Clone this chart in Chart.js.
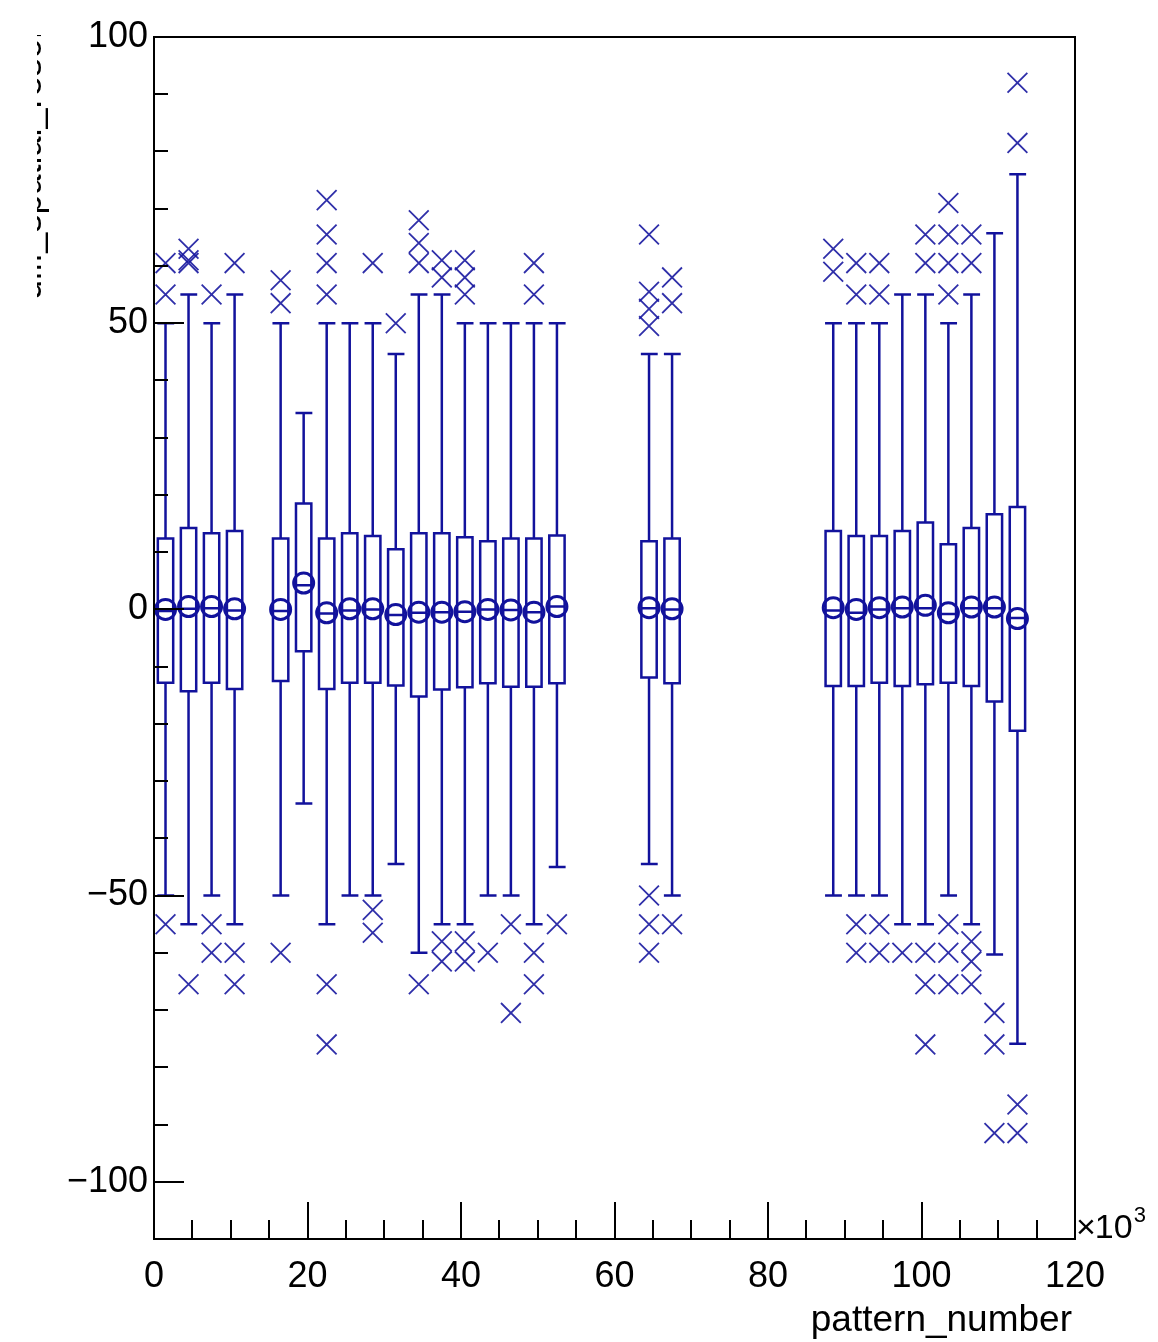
<!DOCTYPE html>
<html>
<head>
<meta charset="utf-8">
<script src="https://cdn.jsdelivr.net/npm/chart.js@4.4.1/dist/chart.umd.min.js"></script>
<style>
  html, body { margin: 0; padding: 0; background: #ffffff; }
  #wrap { width: 1158px; height: 1342px; }
</style>
</head>
<body>
<div id="wrap"><canvas id="candleChart" width="1158" height="1342"></canvas></div>
<script>
// bin centres (in units of 10^3 pattern numbers)
const binCenters = [1.5, 4.5, 7.5, 10.5, 16.5, 19.5, 22.5, 25.5, 28.5, 31.5, 34.5, 37.5, 40.5, 43.5,
    46.5, 49.5, 52.5, 64.5, 67.5, 88.5, 91.5, 94.5, 97.5, 100.5, 103.5, 106.5, 109.5, 112.5];

// candle values per bin
const whiskerTop = [50, 55, 50, 55, 50, 34.3, 50, 50, 50, 44.6, 55, 55, 50, 50,
    50, 50, 50, 44.6, 44.6, 50, 50, 50, 55, 55, 50, 55, 65.7, 76];
const boxTop = [12.4, 14.2, 13.3, 13.7, 12.4, 18.5, 12.4, 13.3, 12.8, 10.5, 13.3, 13.3, 12.6, 11.9,
    12.4, 12.4, 12.9, 11.9, 12.4, 13.7, 12.8, 12.8, 13.7, 15.2, 11.4, 14.2, 16.6, 17.9];
const medians = [-0.3, 0.1, 0.2, -0.2, -0.3, 4.2, -0.7, -0.2, 0, -1, -0.6, -0.5, -0.4, 0,
    -0.1, -0.5, 0.5, 0.2, 0, -0.2, -0.6, 0, 0.2, 0.2, -0.8, 0.2, 0.2, -1.5];
const means = [0, 0.5, 0.5, 0.1, 0, 4.6, -0.6, 0.1, 0.1, -0.9, -0.5, -0.5, -0.4, 0,
    -0.1, -0.5, 0.5, 0.3, 0.1, 0.3, 0, 0.3, 0.4, 0.7, -0.6, 0.4, 0.4, -1.6];
const boxBottom = [-12.8, -14.3, -12.8, -13.9, -12.5, -7.3, -13.9, -12.8, -12.8, -13.3, -15.2, -14, -13.6, -12.9,
    -13.5, -13.5, -12.9, -11.9, -12.9, -13.4, -13.4, -12.8, -13.4, -13.1, -12.8, -13.4, -16.1, -21.2];
const whiskerBottom = [-50, -55, -50, -55, -50, -33.9, -55, -50, -50, -44.5, -60, -55, -55, -50,
    -50, -55, -45, -44.5, -50, -50, -50, -50, -55, -55, -50, -55, -60.3, -75.9];

// outliers above / below the whiskers
const outliersHigh = [[60.5, 55], [63, 61, 60.5], [55], [60.5], [57.5, 53.5], [], [71.5, 65.5, 60.5, 55], [],
    [60.5], [50], [68, 64, 60.5], [61, 58], [61, 58, 55], [], [], [60.5, 55], [],
    [65.5, 55.5, 52.5, 49.5], [58, 53.5], [63, 59], [60.5, 55], [60.5, 55], [], [65.5, 60.5],
    [71, 65.5, 60.5, 55], [65.5, 60.5], [], [92, 81.5]];
const outliersLow = [[-55], [-65.5], [-55, -60], [-60, -65.5], [-60], [], [-65.5, -76], [],
    [-52.5, -56.5], [], [-65.5], [-58, -61.5], [-58, -61.5], [-60], [-55, -70.5], [-60, -65.5], [-55],
    [-50, -55, -60], [-55], [], [-55, -60], [-55, -60], [-60], [-60, -65.5, -76],
    [-55, -60, -65.5], [-58, -61.5, -65.5], [-70.5, -76, -91.5], [-86.5, -91.5]];

// axis ticks
const xTicks = [0, 20, 40, 60, 80, 100, 120];
const yTicks = [-100, -50, 0, 50, 100];

const lineColor = '#12129c';
const fontFamily = "'Liberation Sans', Arial, Helvetica, sans-serif";

const outlierPoints = [];
binCenters.forEach((x, i) => {
    outliersHigh[i].forEach(v => outlierPoints.push({ x: x, y: v }));
    outliersLow[i].forEach(v => outlierPoints.push({ x: x, y: v }));
});
const meanPoints = binCenters.map((x, i) => ({ x: x, y: means[i] }));

// boxes, whiskers and median lines
const candlePlugin = {
    id: 'candles',
    beforeDatasetsDraw(chart) {
        const ctx = chart.ctx;
        const xs = chart.scales.x, ys = chart.scales.y;
        const halfBox = 1.0;
        ctx.save();
        ctx.strokeStyle = lineColor;
        ctx.lineWidth = 2.5;
        binCenters.forEach((x, i) => {
            const cx = xs.getPixelForValue(x);
            const left = xs.getPixelForValue(x - halfBox);
            const right = xs.getPixelForValue(x + halfBox);
            const yTop = ys.getPixelForValue(boxTop[i]);
            const yBot = ys.getPixelForValue(boxBottom[i]);
            const yWt = ys.getPixelForValue(whiskerTop[i]);
            const yWb = ys.getPixelForValue(whiskerBottom[i]);
            const yMed = ys.getPixelForValue(medians[i]);
            ctx.beginPath();
            ctx.rect(left, yTop, right - left, yBot - yTop);
            ctx.moveTo(cx, yTop); ctx.lineTo(cx, yWt);
            ctx.moveTo(cx, yBot); ctx.lineTo(cx, yWb);
            ctx.moveTo(left - 0.5, yWt); ctx.lineTo(right + 1, yWt);
            ctx.moveTo(left - 0.5, yWb); ctx.lineTo(right + 1, yWb);
            ctx.moveTo(left, yMed); ctx.lineTo(right, yMed);
            ctx.stroke();
        });
        ctx.restore();
    }
};

// ROOT style frame, inner ticks and titles
const framePlugin = {
    id: 'frame',
    afterDraw(chart) {
        const ctx = chart.ctx;
        const a = chart.chartArea;
        const xs = chart.scales.x, ys = chart.scales.y;
        ctx.save();
        ctx.strokeStyle = '#000';
        ctx.lineWidth = 2;
        ctx.strokeRect(a.left, a.top, a.right - a.left, a.bottom - a.top);

        ctx.beginPath();
        for (let v = -100; v <= 100; v += 10) {
            const py = Math.round(ys.getPixelForValue(v));
            const len = (v % 50 === 0) ? 30 : 14;
            ctx.moveTo(a.left, py); ctx.lineTo(a.left + len, py);
        }
        for (let v = 0; v <= 120; v += 5) {
            const px = Math.round(xs.getPixelForValue(v));
            const len = (v % 20 === 0) ? 37 : 19;
            ctx.moveTo(px, a.bottom); ctx.lineTo(px, a.bottom - len);
        }
        ctx.stroke();

        ctx.fillStyle = '#000';
        ctx.font = '37px ' + fontFamily;
        ctx.textAlign = 'right';
        ctx.textBaseline = 'alphabetic';
        ctx.fillText('pattern_number', 1072, 1331);

        // exponent label
        ctx.textAlign = 'left';
        ctx.font = '34px ' + fontFamily;
        ctx.fillText('\u00d7', 1076, 1238);
        const wx = ctx.measureText('\u00d7').width;
        ctx.fillText('10', 1076 + wx - 1, 1238);
        const w10 = ctx.measureText('10').width;
        ctx.font = '22px ' + fontFamily;
        ctx.fillText('3', 1076 + wx + w10, 1222);

        // y title, mostly outside the visible pad
        ctx.beginPath();
        ctx.rect(37, 35, 30, 280);
        ctx.clip();
        ctx.translate(41, 300);
        ctx.rotate(-Math.PI / 2);
        ctx.font = '36px ' + fontFamily;
        ctx.fillText('diff_spatial_resolution', 0, 0);
        ctx.restore();
    }
};

const ctx = document.getElementById('candleChart').getContext('2d');
new Chart(ctx, {
    type: 'scatter',
    data: {
        datasets: [{
            label: 'outliers',
            data: outlierPoints,
            pointStyle: 'crossRot',
            pointRadius: 14,
            borderColor: 'rgba(24, 24, 160, 0.9)',
            borderWidth: 1.8,
            backgroundColor: 'rgba(0,0,0,0)'
        }, {
            label: 'mean',
            data: meanPoints,
            pointStyle: 'circle',
            pointRadius: 10,
            borderColor: lineColor,
            borderWidth: 3,
            backgroundColor: 'rgba(0,0,0,0)'
        }]
    },
    options: {
        responsive: false,
        animation: false,
        events: [],
        layout: { padding: { top: 37, right: 83, left: 0, bottom: 0 } },
        plugins: {
            legend: { display: false },
            tooltip: { enabled: false },
            title: { display: false }
        },
        scales: {
            x: {
                type: 'linear',
                min: 0,
                max: 120,
                afterBuildTicks: s => { s.ticks = xTicks.map(v => ({ value: v })); },
                afterFit: s => { s.height = 103; },
                grid: { display: false, drawTicks: false },
                border: { display: false },
                ticks: {
                    padding: 16,
                    color: '#000',
                    maxRotation: 0,
                    font: { family: fontFamily, size: 36 },
                    callback: v => String(v)
                }
            },
            y: {
                type: 'linear',
                min: -110,
                max: 100,
                afterBuildTicks: s => { s.ticks = yTicks.map(v => ({ value: v })); },
                afterFit: s => { s.width = 154; },
                grid: { display: false, drawTicks: false },
                border: { display: false },
                ticks: {
                    padding: 6,
                    color: '#000',
                    font: { family: fontFamily, size: 36 },
                    callback: v => (v < 0 ? '\u2212' + Math.abs(v) : String(v))
                }
            }
        }
    },
    plugins: [candlePlugin, framePlugin]
});
</script>
</body>
</html>
